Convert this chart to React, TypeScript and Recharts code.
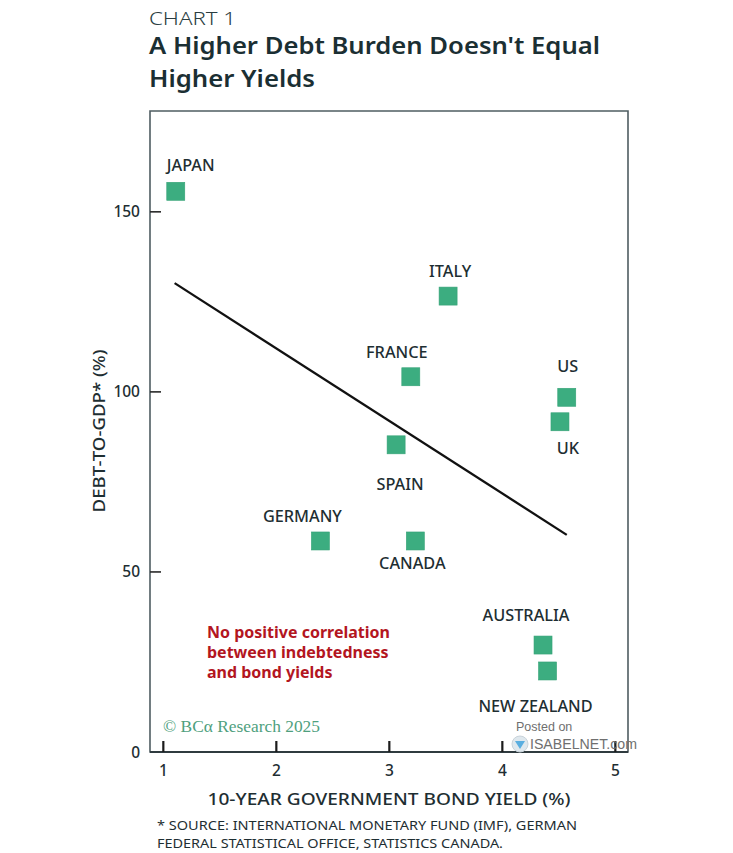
import React from 'react';
import { ScatterChart, Scatter, XAxis, YAxis, ReferenceLine, ReferenceArea } from 'recharts';

const countries = ['JAPAN', 'ITALY', 'FRANCE', 'US', 'UK', 'SPAIN', 'GERMANY', 'CANADA', 'AUSTRALIA', 'NEW ZEALAND'];
const bondYield = [1.11, 3.52, 3.19, 4.57, 4.51, 3.06, 2.39, 3.23, 4.36, 4.40];
const debtToGdp = [155.7, 126.6, 104.2, 98.5, 91.7, 85.3, 58.6, 58.6, 29.7, 22.5];
const xTicks = [1, 2, 3, 4, 5];
const yTicks = [0, 50, 100, 150];
const trendYield = [1.10, 4.57];
const trendDebt = [130.2, 60.3];

const data = countries.map((name, i) => ({ name, x: bondYield[i], y: debtToGdp[i] }));

const FONT = '"Noto Sans", "Open Sans", sans-serif';
const DARK = '#1e2e32';
const GREEN = '#3cad80';

const LABEL_OFFSET: Record<string, [number, number]> = {
  JAPAN: [15, -26],
  ITALY: [2, -25],
  FRANCE: [-14, -25],
  US: [1, -31],
  UK: [8, 26],
  SPAIN: [4, 39],
  GERMANY: [-18, -25],
  CANADA: [-3, 22],
  AUSTRALIA: [-17, -30],
  'NEW ZEALAND': [-12, 35],
};

const SquareWithLabel = (props: any) => {
  const { cx, cy, payload } = props;
  if (cx == null || cy == null) return null;
  const off = LABEL_OFFSET[payload.name] || [0, -25];
  return (
    <g>
      <rect x={cx - 9} y={cy - 9} width={18} height={18} fill={GREEN} stroke="#35a276" strokeWidth={0.6} />
      <text
        x={cx + off[0]}
        y={cy + off[1] + 6}
        textAnchor="middle"
        fontFamily={FONT}
        fontSize={16.3}
        fontWeight={500}
        fill={DARK}
      >
        {payload.name}
      </text>
    </g>
  );
};

const XTick = (props: any) => {
  const { x, y, payload } = props;
  return (
    <g>
      <rect x={x - 1.1} y={y - 11} width={2.2} height={11} fill="#1c1c1c" />
      <text x={x} y={y + 24} textAnchor="middle" fontFamily={FONT} fontSize={15.5} fontWeight={500} fill={DARK}>
        {payload.value}
      </text>
    </g>
  );
};

const YTick = (props: any) => {
  const { x, y, payload } = props;
  return (
    <g>
      {payload.value !== 0 && <rect x={x} y={y - 0.8} width={11} height={1.6} fill="#2a2a2a" />}
      <text x={x - 10} y={y + 5.5} textAnchor="end" fontFamily={FONT} fontSize={15.5} fontWeight={500} fill={DARK}>
        {payload.value}
      </text>
    </g>
  );
};

export default function App() {
  return (
    <div style={{ position: 'absolute', left: 0, top: 0, width: 733, height: 853, background: '#fff', overflow: 'hidden' }}>
      <div style={{ position: 'absolute', left: 0, top: 0 }}>
        <ScatterChart width={733} height={853} margin={{ top: 111, left: 149, right: 105, bottom: 100 }}>
          <ReferenceArea
            x1={0.882}
            x2={5.112}
            y1={0}
            y2={178}
            fill="none"
            fillOpacity={0}
            stroke="#4f5d62"
            strokeWidth={1.6}
            ifOverflow="visible"
          />
          <XAxis
            type="number"
            dataKey="x"
            domain={[0.882, 5.112]}
            ticks={xTicks}
            allowDataOverflow
            height={1}
            tickSize={0}
            tickMargin={0}
            tickLine={false}
            axisLine={{ stroke: '#2f3b3f', strokeWidth: 2 }}
            tick={<XTick />}
            interval={0}
          />
          <YAxis
            type="number"
            dataKey="y"
            domain={[0, 178]}
            ticks={yTicks}
            allowDataOverflow
            width={1}
            tickSize={0}
            tickMargin={0}
            tickLine={false}
            axisLine={false}
            tick={<YTick />}
            interval={0}
          />
          <ReferenceLine
            segment={[
              { x: trendYield[0], y: trendDebt[0] },
              { x: trendYield[1], y: trendDebt[1] },
            ]}
            stroke="#111"
            strokeWidth={2.3}
            ifOverflow="visible"
          />
          <Scatter data={data} shape={<SquareWithLabel />} isAnimationActive={false} />
        </ScatterChart>
      </div>
      <svg width={733} height={853} style={{ position: 'absolute', left: 0, top: 0, pointerEvents: 'none' }}>
        <text x={149} y={25} fontFamily={FONT} fontSize={19} fontWeight={300} fill="#2a3d41" textLength={87} lengthAdjust="spacingAndGlyphs">
          CHART 1
        </text>
        <text x={149} y={54} fontFamily={FONT} fontSize={23} fontWeight={600} fill="#1b2f33" textLength={451} lengthAdjust="spacingAndGlyphs">
          A Higher Debt Burden Doesn't Equal
        </text>
        <text x={149} y={87} fontFamily={FONT} fontSize={23} fontWeight={600} fill="#1b2f33" textLength={166} lengthAdjust="spacingAndGlyphs">
          Higher Yields
        </text>
        <text
          x={105}
          y={431}
          transform="rotate(-90 105 431)"
          textAnchor="middle"
          fontFamily={FONT}
          fontSize={15.5}
          fontWeight={500}
          fill={DARK}
          textLength={163}
          lengthAdjust="spacingAndGlyphs"
        >
          DEBT-TO-GDP* (%)
        </text>
        <text x={389} y={805} textAnchor="middle" fontFamily={FONT} fontSize={17} fontWeight={500} fill={DARK} textLength={363} lengthAdjust="spacingAndGlyphs">
          10-YEAR GOVERNMENT BOND YIELD (%)
        </text>
        <text x={157} y={830} fontFamily={FONT} fontSize={13} fill={DARK} textLength={420} lengthAdjust="spacingAndGlyphs">
          * SOURCE: INTERNATIONAL MONETARY FUND (IMF), GERMAN
        </text>
        <text x={157} y={848} fontFamily={FONT} fontSize={13} fill={DARK} textLength={346} lengthAdjust="spacingAndGlyphs">
          FEDERAL STATISTICAL OFFICE, STATISTICS CANADA.
        </text>
        <g fontFamily={FONT} fontSize={16} fontWeight={700} fill="#b3161f">
          <text x={207} y={638}>No positive correlation</text>
          <text x={207} y={658}>between indebtedness</text>
          <text x={207} y={678}>and bond yields</text>
        </g>
        <text x={163} y={732} fontFamily='"Liberation Serif", "DejaVu Serif", serif' fontSize={17} fill="#4f9f7e" textLength={157} lengthAdjust="spacingAndGlyphs">
          © BCα Research 2025
        </text>
        <text x={516} y={731} fontFamily='"Liberation Sans", Arial, sans-serif' fontSize={12.5} fill="#6f6f6f">
          Posted on
        </text>
        <circle cx={520} cy={744} r={8} fill="#dfe8ee" stroke="#c9d3da" strokeWidth={1} />
        <path d="M515 741 L525 741 L520 749 Z" fill="#5aaee0" />
        <text x={530} y={749} fontFamily='"Liberation Sans", Arial, sans-serif' fontSize={14} fill="#6f6f6f" textLength={107} lengthAdjust="spacingAndGlyphs">
          ISABELNET.com
        </text>
      </svg>
    </div>
  );
}
